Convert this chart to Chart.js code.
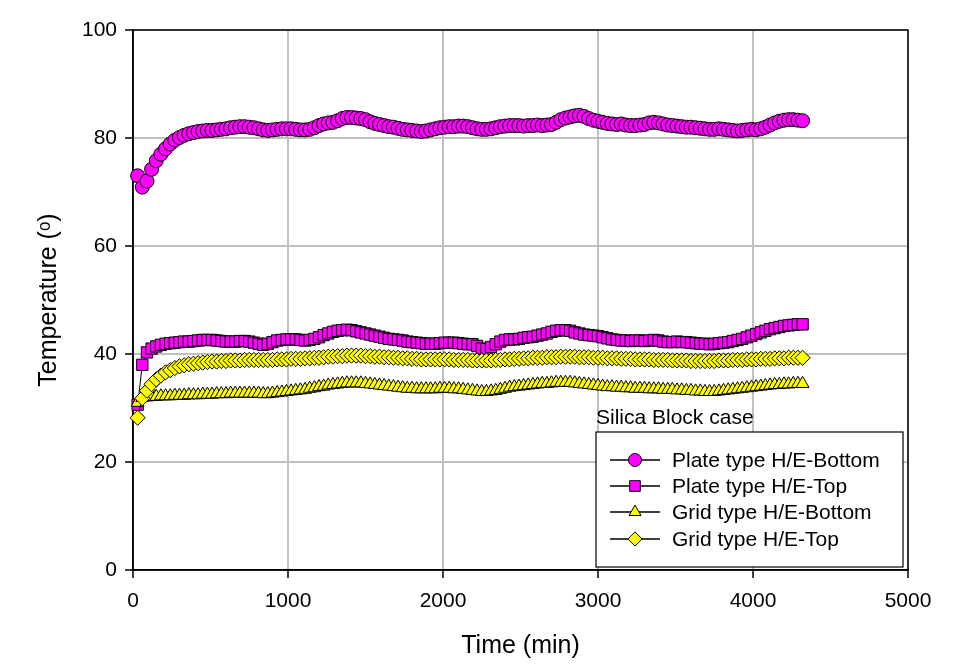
<!DOCTYPE html>
<html>
<head>
<meta charset="utf-8">
<script src="https://cdn.jsdelivr.net/npm/chart.js@4/dist/chart.umd.min.js"></script>
<style>
  html, body { margin: 0; padding: 0; background: #ffffff; }
  #wrap { width: 963px; height: 668px; }
</style>
</head>
<body>
<div id="wrap"><canvas id="c" width="963" height="668"></canvas></div>
<script>
// ---- data ----
const timeMin = [
  30,60,90,120,150,180,210,240,270,300,
  330,360,390,420,450,480,510,540,570,600,
  630,660,690,720,750,780,810,840,870,900,
  930,960,990,1020,1050,1080,1110,1140,1170,1200,
  1230,1260,1290,1320,1350,1380,1410,1440,1470,1500,
  1530,1560,1590,1620,1650,1680,1710,1740,1770,1800,
  1830,1860,1890,1920,1950,1980,2010,2040,2070,2100,
  2130,2160,2190,2220,2250,2280,2310,2340,2370,2400,
  2430,2460,2490,2520,2550,2580,2610,2640,2670,2700,
  2730,2760,2790,2820,2850,2880,2910,2940,2970,3000,
  3030,3060,3090,3120,3150,3180,3210,3240,3270,3300,
  3330,3360,3390,3420,3450,3480,3510,3540,3570,3600,
  3630,3660,3690,3720,3750,3780,3810,3840,3870,3900,
  3930,3960,3990,4020,4050,4080,4110,4140,4170,4200,
  4230,4260,4290,4320
];

const plateBottom = [
  73.0,70.9,72.0,74.2,75.8,77.0,78.0,78.9,79.6,80.1,
  80.5,80.8,81.0,81.2,81.3,81.4,81.4,81.5,81.6,81.7,
  81.9,82.0,82.1,82.1,82.0,81.9,81.7,81.5,81.4,81.5,
  81.6,81.7,81.7,81.7,81.6,81.5,81.5,81.6,81.9,82.3,
  82.6,82.8,82.9,83.2,83.6,83.8,83.8,83.7,83.6,83.4,
  83.0,82.7,82.5,82.3,82.1,82.0,81.8,81.6,81.5,81.4,
  81.3,81.2,81.3,81.5,81.7,81.9,82.0,82.1,82.1,82.2,
  82.2,82.1,81.9,81.7,81.6,81.6,81.7,81.9,82.1,82.2,
  82.3,82.3,82.3,82.2,82.3,82.3,82.4,82.3,82.4,82.5,
  82.9,83.4,83.7,83.9,84.1,84.2,84.0,83.6,83.3,83.1,
  82.9,82.7,82.6,82.5,82.6,82.4,82.3,82.3,82.4,82.5,
  82.8,82.9,82.8,82.6,82.4,82.3,82.2,82.1,82.0,82.0,
  81.9,81.8,81.7,81.6,81.6,81.7,81.6,81.5,81.4,81.3,
  81.4,81.5,81.6,81.5,81.7,82.0,82.4,82.8,83.1,83.3,
  83.4,83.4,83.3,83.2
];

const plateTop = [
  30.6,38.0,40.3,41.0,41.4,41.7,41.9,42.0,42.1,42.2,
  42.3,42.3,42.4,42.5,42.6,42.6,42.6,42.5,42.4,42.3,
  42.3,42.3,42.4,42.4,42.3,42.1,41.9,41.7,41.9,42.2,
  42.5,42.6,42.7,42.7,42.7,42.6,42.5,42.6,42.8,43.1,
  43.5,43.8,44.1,44.3,44.4,44.5,44.4,44.2,44.0,43.8,
  43.6,43.4,43.2,43.0,42.8,42.7,42.6,42.5,42.3,42.2,
  42.1,42.0,41.9,41.9,41.9,42.0,42.1,42.1,42.1,42.0,
  41.9,41.8,41.8,41.5,41.0,40.9,41.3,41.8,42.3,42.6,
  42.7,42.7,42.8,43.0,43.1,43.2,43.4,43.6,43.8,44.1,
  44.3,44.4,44.4,44.3,44.0,43.8,43.6,43.5,43.4,43.3,
  43.1,42.9,42.7,42.6,42.5,42.5,42.4,42.5,42.5,42.4,
  42.5,42.6,42.5,42.3,42.2,42.2,42.3,42.2,42.2,42.1,
  42.0,41.9,41.9,41.8,41.9,42.0,42.1,42.2,42.4,42.6,
  42.8,43.1,43.4,43.7,44.0,44.3,44.6,44.8,45.0,45.2,
  45.3,45.4,45.5,45.5
];

const gridBottom = [
  31.0,31.9,32.0,32.1,32.1,32.2,32.2,32.2,32.3,32.3,
  32.3,32.4,32.4,32.4,32.5,32.5,32.5,32.6,32.6,32.6,
  32.7,32.7,32.7,32.7,32.7,32.7,32.7,32.6,32.6,32.7,
  32.8,32.9,33.0,33.1,33.2,33.3,33.4,33.6,33.7,33.9,
  34.0,34.2,34.3,34.4,34.5,34.6,34.6,34.6,34.6,34.5,
  34.4,34.3,34.2,34.1,34.0,33.9,33.8,33.7,33.6,33.6,
  33.5,33.5,33.5,33.5,33.5,33.6,33.6,33.6,33.5,33.5,
  33.4,33.3,33.2,33.1,33.0,33.0,33.1,33.2,33.4,33.6,
  33.8,33.9,34.0,34.1,34.2,34.3,34.4,34.5,34.5,34.6,
  34.7,34.7,34.7,34.7,34.6,34.5,34.4,34.3,34.2,34.1,
  34.0,33.9,33.9,33.8,33.8,33.7,33.7,33.6,33.6,33.6,
  33.5,33.5,33.5,33.4,33.4,33.4,33.3,33.3,33.2,33.2,
  33.1,33.1,33.0,33.0,33.0,33.1,33.2,33.3,33.4,33.5,
  33.6,33.7,33.8,33.9,34.0,34.1,34.2,34.3,34.3,34.4,
  34.4,34.5,34.5,34.5
];

const gridTop = [
  28.2,31.8,33.2,34.4,35.3,36.0,36.6,37.0,37.4,37.7,
  37.9,38.1,38.2,38.3,38.4,38.5,38.6,38.6,38.7,38.7,
  38.8,38.8,38.8,38.9,38.9,38.9,38.9,38.9,38.9,38.9,
  39.0,39.0,39.0,39.1,39.1,39.1,39.2,39.2,39.3,39.3,
  39.4,39.5,39.5,39.6,39.6,39.7,39.7,39.7,39.7,39.6,
  39.6,39.5,39.5,39.4,39.4,39.3,39.3,39.2,39.2,39.1,
  39.1,39.0,39.0,39.0,39.0,39.0,39.0,39.0,38.9,38.9,
  38.9,38.9,38.8,38.8,38.8,38.8,38.8,38.9,38.9,39.0,
  39.0,39.1,39.1,39.2,39.2,39.3,39.3,39.3,39.4,39.4,
  39.4,39.5,39.5,39.5,39.5,39.4,39.4,39.4,39.3,39.3,
  39.3,39.2,39.2,39.2,39.1,39.1,39.1,39.0,39.0,39.0,
  39.0,38.9,38.9,38.9,38.9,38.8,38.8,38.8,38.8,38.7,
  38.7,38.7,38.7,38.7,38.7,38.8,38.8,38.8,38.9,38.9,
  38.9,39.0,39.0,39.0,39.1,39.1,39.1,39.2,39.2,39.2,
  39.3,39.3,39.3,39.3
];

const seriesNames = ['Plate type H/E-Bottom', 'Plate type H/E-Top', 'Grid type H/E-Bottom', 'Grid type H/E-Top'];
const legendTitle = 'Silica Block case';
const xTitle = 'Time (min)';
const yTitle = 'Temperature (\u1D52)';

// ---- build chart ----
const FONT = '"Liberation Sans", Arial, sans-serif';
function pts(ys) { return ys.map((y, i) => ({ x: timeMin[i], y: y })); }

const styles = [
  { data: plateBottom, pointStyle: 'circle',   radius: 7.0, color: '#FF00FF', order: 4 },
  { data: plateTop,    pointStyle: 'rect',     radius: 8.0, color: '#FF00FF', order: 3 },
  { data: gridBottom,  pointStyle: 'triangle', radius: 7.4, color: '#FFFF00', order: 2 },
  { data: gridTop,     pointStyle: 'rectRot',  radius: 7.6, color: '#FFFF00', order: 1 }
];

const datasets = styles.map((s, i) => ({
  label: seriesNames[i],
  data: pts(s.data),
  order: s.order,
  showLine: true,
  borderColor: '#000000',
  borderWidth: 1,
  pointStyle: s.pointStyle,
  pointRadius: s.radius,
  pointBackgroundColor: s.color,
  pointBorderColor: '#000000',
  pointBorderWidth: 1,
  pointHoverRadius: s.radius,
  tension: 0,
  clip: false
}));

const framePlugin = {
  id: 'frame',
  beforeDatasetsDraw(chart) {
    const a = chart.chartArea, ctx = chart.ctx;
    ctx.save();
    ctx.strokeStyle = '#000';
    ctx.lineWidth = 1.5;
    ctx.strokeRect(a.left, a.top, a.right - a.left, a.bottom - a.top);
    ctx.restore();
  }
};

const legendPlugin = {
  id: 'boxLegend',
  afterDraw(chart) {
    const ctx = chart.ctx;
    const bx = 596, by = 432, bw = 307, bh = 135;
    ctx.save();
    ctx.font = '21px ' + FONT;
    ctx.fillStyle = '#000';
    ctx.textAlign = 'left';
    ctx.textBaseline = 'middle';
    ctx.fillText(legendTitle, 596, 418);
    ctx.fillStyle = '#fff';
    ctx.fillRect(bx, by, bw, bh);
    ctx.strokeStyle = '#000';
    ctx.lineWidth = 1.2;
    ctx.strokeRect(bx, by, bw, bh);
    const rows = [460, 486, 512, 539];
    chart.data.datasets.forEach((ds, i) => {
      const y = rows[i];
      ctx.strokeStyle = '#000';
      ctx.lineWidth = 1.5;
      ctx.beginPath();
      ctx.moveTo(610, y);
      ctx.lineTo(660, y);
      ctx.stroke();
      ctx.fillStyle = ds.pointBackgroundColor;
      ctx.strokeStyle = '#000';
      ctx.lineWidth = 1;
      Chart.helpers.drawPoint(ctx, { pointStyle: ds.pointStyle, radius: ds.pointRadius - 0.5, rotation: 0, borderWidth: 1 }, 635, y);
      ctx.fillStyle = '#000';
      ctx.fillText(ds.label, 672, y + 1);
    });
    ctx.restore();
  }
};

new Chart(document.getElementById('c'), {
  type: 'scatter',
  data: { datasets: datasets },
  options: {
    responsive: false,
    devicePixelRatio: 1,
    animation: false,
    events: [],
    layout: { padding: { left: 0, top: 30, right: 55, bottom: 0 } },
    plugins: { legend: { display: false }, tooltip: { enabled: false } },
    scales: {
      x: {
        type: 'linear',
        min: 0, max: 5000,
        afterFit(scale) { scale.height = 98; },
        ticks: { stepSize: 1000, padding: 11, color: '#000', font: { family: FONT, size: 21 }, maxRotation: 0,
                 callback: (v) => String(v) },
        grid: { color: '#c0c0c0', lineWidth: 2, tickColor: '#000', tickLength: 8, tickWidth: 1.5, drawTicks: true },
        border: { color: '#000', width: 1.5 },
        title: { display: true, text: xTitle, color: '#000', font: { family: FONT, size: 25 }, padding: { top: 7, bottom: 7 } }
      },
      y: {
        type: 'linear',
        min: 0, max: 100,
        afterFit(scale) { scale.width = 133; },
        ticks: { stepSize: 20, padding: 8, color: '#000', font: { family: FONT, size: 21 },
                 callback: (v) => String(v) },
        grid: { color: '#c0c0c0', lineWidth: 2, tickColor: '#000', tickLength: 8, tickWidth: 1.5, drawTicks: true },
        border: { color: '#000', width: 1.5 },
        title: { display: true, text: yTitle, color: '#000', font: { family: FONT, size: 25 }, padding: { top: 34, bottom: 34 } }
      }
    }
  },
  plugins: [framePlugin, legendPlugin]
});
</script>
</body>
</html>
